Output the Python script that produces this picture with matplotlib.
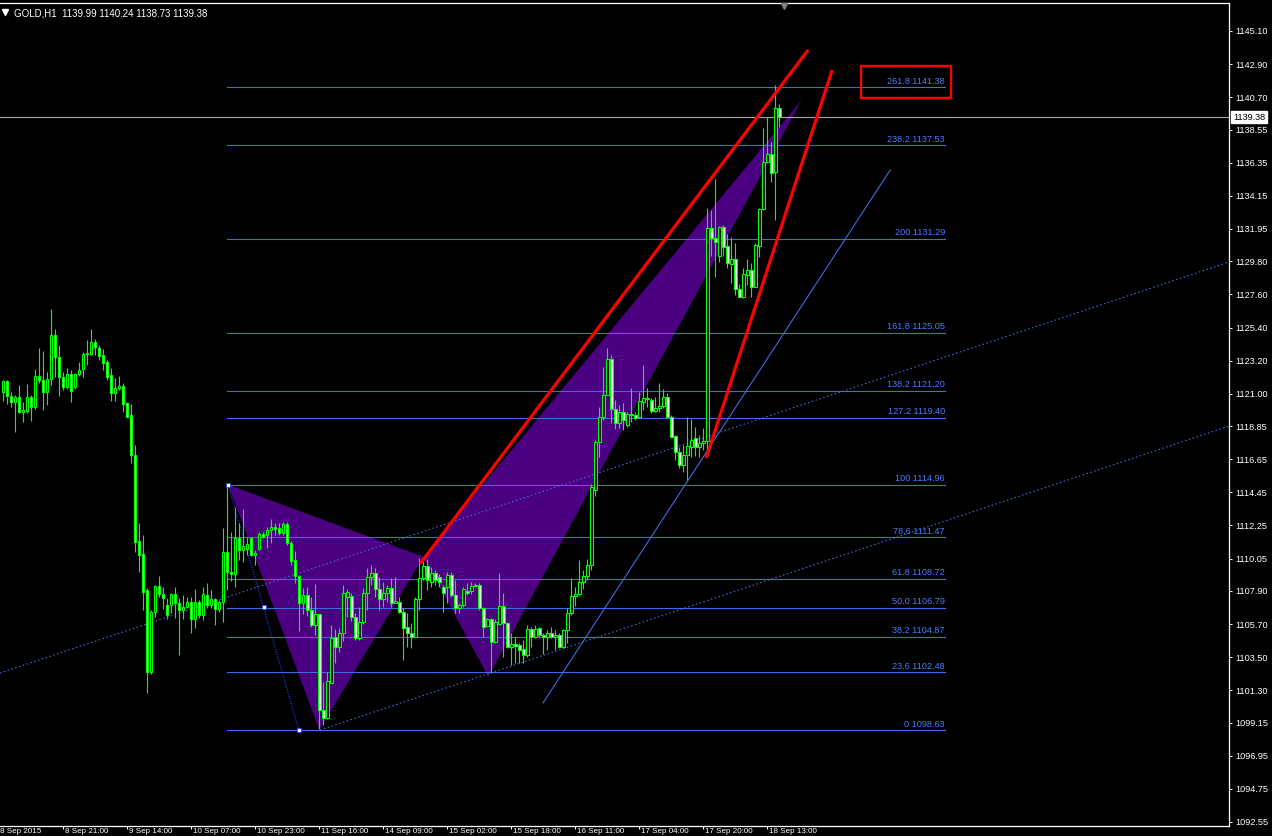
import matplotlib.pyplot as plt
from matplotlib.patches import Polygon, Rectangle

plt.rcParams['font.family'] = ['Liberation Sans', 'DejaVu Sans']

# GOLD H1 candles, bar 0 = left edge of the window
opens = [1121.14, 1121.85, 1120.85, 1120.47, 1120.76, 1119.81, 1119.88, 1120.76, 1120.10, 1122.18,
         1121.91, 1121.14, 1121.96, 1124.90, 1123.42, 1122.14, 1121.47, 1122.31, 1121.43, 1122.31,
         1122.62, 1123.64, 1123.64, 1124.42, 1124.06, 1123.58, 1123.09, 1122.25, 1121.07, 1121.36,
         1121.52, 1120.36, 1119.57, 1116.91, 1111.19, 1110.35, 1107.96, 1102.53, 1106.52, 1108.23,
         1107.69, 1106.96, 1106.96, 1107.69, 1107.12, 1106.63, 1106.81, 1107.16, 1106.01, 1107.16,
         1106.28, 1107.61, 1106.98, 1107.34, 1106.72, 1107.16, 1110.51, 1109.18, 1109.00, 1111.39,
         1110.61, 1110.66, 1111.39, 1110.28, 1110.70, 1111.68, 1111.59, 1111.94, 1112.12, 1112.05,
         1111.77, 1112.34, 1111.10, 1109.95, 1108.89, 1107.11, 1107.62, 1106.63, 1105.63, 1106.36,
         1099.98, 1099.43, 1101.80, 1104.86, 1104.19, 1105.12, 1107.51, 1107.56, 1106.14, 1104.74,
         1105.85, 1107.78, 1108.84, 1109.11, 1108.00, 1107.34, 1107.78, 1108.07, 1107.07, 1107.18,
         1106.52, 1105.48, 1105.12, 1104.86, 1107.34, 1108.73, 1109.55, 1108.51, 1109.11, 1108.80,
         1108.13, 1108.13, 1108.95, 1107.62, 1106.74, 1106.96, 1107.91, 1107.91, 1108.22, 1108.29,
         1106.74, 1105.56, 1106.01, 1104.52, 1105.70, 1106.89, 1105.74, 1104.19, 1104.37, 1104.30,
         1104.01, 1103.64, 1105.34, 1104.86, 1105.41, 1104.97, 1104.86, 1105.08, 1104.86, 1104.97,
         1104.19, 1105.30, 1106.41, 1107.56, 1107.69, 1108.51, 1108.90, 1109.60, 1114.60, 1117.81,
         1119.43, 1120.92, 1123.31, 1119.96, 1119.08, 1119.81, 1118.92, 1119.65, 1119.59, 1119.43,
         1120.47, 1120.69, 1120.58, 1119.87, 1120.03, 1120.18, 1120.80, 1119.48, 1118.19, 1117.15,
         1116.26, 1116.93, 1117.48, 1118.04, 1117.44, 1117.70, 1117.88, 1131.98, 1131.32, 1130.15,
         1132.09, 1130.81, 1129.61, 1129.92, 1127.93, 1127.44, 1128.88, 1129.21, 1128.11, 1130.83,
         1133.25, 1136.41, 1136.92, 1135.75, 1139.99]
highs = [1121.91, 1121.91, 1121.14, 1120.92, 1121.58, 1120.47, 1121.65, 1120.92, 1122.62, 1124.02,
         1123.86, 1122.47, 1126.63, 1125.30, 1124.24, 1122.47, 1122.69, 1122.58, 1122.35, 1123.13,
         1123.80, 1124.57, 1125.30, 1124.61, 1124.24, 1123.95, 1123.24, 1122.69, 1122.02, 1122.18,
         1121.69, 1120.47, 1120.32, 1117.59, 1112.39, 1111.61, 1108.07, 1106.63, 1108.29, 1108.89,
         1108.14, 1107.41, 1107.78, 1108.18, 1107.41, 1107.63, 1107.52, 1107.52, 1108.00, 1107.30,
         1108.18, 1108.40, 1107.96, 1107.41, 1107.30, 1112.06, 1114.94, 1111.79, 1113.50, 1112.39,
         1113.32, 1111.50, 1111.50, 1110.61, 1111.83, 1111.83, 1112.16, 1112.65, 1112.43, 1112.39,
         1112.50, 1112.50, 1111.23, 1110.57, 1108.95, 1108.07, 1108.13, 1107.51, 1108.35, 1106.36,
         1101.87, 1102.53, 1105.63, 1105.34, 1105.41, 1108.29, 1108.00, 1107.78, 1106.41, 1106.85,
         1108.07, 1109.40, 1109.62, 1109.40, 1108.84, 1108.51, 1108.29, 1108.73, 1108.80, 1107.51,
         1106.74, 1106.41, 1105.74, 1107.51, 1110.06, 1109.91, 1109.99, 1109.46, 1109.29, 1109.02,
         1108.29, 1109.17, 1109.17, 1108.62, 1107.07, 1108.13, 1108.40, 1108.51, 1108.40, 1108.44,
         1106.85, 1106.07, 1106.07, 1106.01, 1109.06, 1107.78, 1105.85, 1105.08, 1104.86, 1104.46,
         1104.63, 1105.63, 1105.52, 1105.63, 1105.48, 1105.08, 1105.30, 1105.52, 1105.30, 1105.12,
         1105.34, 1106.74, 1108.73, 1108.18, 1109.95, 1109.30, 1110.00, 1115.00, 1117.95, 1120.14,
         1122.80, 1124.02, 1123.57, 1120.58, 1120.25, 1120.36, 1119.81, 1121.36, 1119.81, 1121.14,
         1122.91, 1121.36, 1120.69, 1120.80, 1121.73, 1121.29, 1121.03, 1119.59, 1118.26, 1117.48,
         1117.59, 1119.43, 1119.30, 1118.77, 1118.26, 1118.70, 1133.31, 1133.20, 1135.24, 1132.14,
         1132.20, 1131.61, 1131.43, 1130.99, 1128.28, 1129.33, 1129.92, 1129.70, 1130.99, 1133.31,
         1138.63, 1139.36, 1137.74, 1141.51, 1140.24]
lows = [1120.52, 1120.32, 1120.14, 1118.48, 1119.70, 1119.15, 1119.70, 1119.21, 1119.96, 1121.74,
        1119.92, 1120.25, 1121.58, 1122.14, 1120.87, 1121.25, 1121.29, 1120.47, 1121.34, 1122.18,
        1122.09, 1122.91, 1123.58, 1123.58, 1123.24, 1122.58, 1121.91, 1120.54, 1120.54, 1121.25,
        1119.81, 1119.43, 1116.38, 1110.51, 1109.18, 1106.63, 1101.14, 1102.38, 1106.19, 1107.52,
        1106.67, 1106.01, 1106.45, 1106.08, 1103.64, 1106.01, 1106.74, 1105.08, 1105.41, 1106.08,
        1105.97, 1106.74, 1106.74, 1105.63, 1106.52, 1105.86, 1107.96, 1108.56, 1108.14, 1109.95,
        1109.84, 1110.28, 1110.22, 1109.62, 1110.61, 1111.39, 1110.72, 1111.10, 1111.61, 1111.61,
        1111.61, 1110.95, 1109.62, 1108.40, 1105.25, 1106.36, 1106.23, 1105.52, 1104.97, 1098.70,
        1098.98, 1099.36, 1101.75, 1103.08, 1103.86, 1104.59, 1106.18, 1105.92, 1104.63, 1104.63,
        1105.70, 1106.63, 1108.29, 1107.51, 1106.63, 1106.85, 1107.18, 1106.85, 1107.07, 1106.45,
        1103.30, 1104.19, 1104.08, 1104.81, 1106.63, 1108.62, 1107.96, 1108.18, 1108.29, 1108.18,
        1106.52, 1107.07, 1107.51, 1106.41, 1106.41, 1106.80, 1107.62, 1107.69, 1108.22, 1106.63,
        1104.86, 1105.52, 1102.42, 1104.41, 1105.63, 1103.53, 1104.08, 1102.97, 1103.08, 1103.08,
        1103.08, 1103.53, 1104.19, 1104.74, 1104.86, 1103.70, 1103.97, 1104.74, 1103.97, 1104.15,
        1104.15, 1104.41, 1106.30, 1106.89, 1107.62, 1108.00, 1108.60, 1109.30, 1114.20, 1116.82,
        1119.25, 1120.92, 1119.03, 1118.63, 1118.70, 1118.59, 1118.81, 1119.14, 1119.25, 1119.36,
        1119.92, 1120.14, 1119.74, 1119.81, 1119.81, 1120.03, 1119.43, 1118.15, 1116.60, 1116.04,
        1115.82, 1115.27, 1116.77, 1116.86, 1116.82, 1117.26, 1117.20, 1130.15, 1128.77, 1129.77,
        1130.15, 1129.33, 1128.33, 1127.55, 1127.40, 1127.33, 1128.22, 1127.40, 1128.11, 1130.10,
        1133.20, 1136.35, 1135.08, 1132.54, 1138.73]
closes = [1121.85, 1120.85, 1120.47, 1120.76, 1119.81, 1119.92, 1120.76, 1120.10, 1122.18, 1121.91,
          1121.14, 1121.96, 1124.90, 1123.42, 1122.14, 1121.47, 1122.31, 1121.21, 1122.31, 1122.58,
          1123.64, 1123.73, 1124.42, 1124.08, 1123.53, 1123.07, 1122.14, 1121.07, 1121.36, 1121.52,
          1120.30, 1119.48, 1116.91, 1111.13, 1110.31, 1107.85, 1102.53, 1106.47, 1108.23, 1107.69,
          1107.45, 1106.30, 1107.69, 1107.12, 1106.63, 1106.85, 1107.16, 1106.06, 1107.16, 1106.28,
          1107.69, 1106.98, 1107.34, 1106.72, 1107.16, 1110.48, 1109.18, 1109.02, 1111.39, 1110.61,
          1110.88, 1111.01, 1110.28, 1110.44, 1111.68, 1111.50, 1111.94, 1112.12, 1111.99, 1111.77,
          1112.34, 1111.06, 1109.91, 1108.89, 1107.11, 1107.62, 1106.63, 1105.63, 1106.36, 1099.98,
          1099.43, 1101.93, 1104.74, 1104.19, 1105.12, 1107.78, 1107.85, 1106.14, 1104.74, 1105.85,
          1107.78, 1108.84, 1109.11, 1108.00, 1107.34, 1107.78, 1108.07, 1107.07, 1107.25, 1106.52,
          1105.41, 1105.12, 1104.86, 1107.34, 1108.73, 1109.55, 1108.62, 1109.11, 1108.62, 1108.51,
          1107.73, 1108.95, 1107.62, 1106.74, 1106.96, 1108.00, 1107.78, 1108.22, 1108.29, 1106.74,
          1105.52, 1106.01, 1104.52, 1105.85, 1106.89, 1105.74, 1104.19, 1104.37, 1104.23, 1103.97,
          1103.64, 1105.34, 1104.86, 1105.34, 1104.97, 1104.86, 1105.08, 1104.86, 1104.97, 1104.19,
          1105.30, 1106.41, 1107.56, 1107.69, 1108.51, 1108.90, 1109.60, 1114.80, 1117.81, 1119.43,
          1120.92, 1123.31, 1119.96, 1119.08, 1119.81, 1119.25, 1119.65, 1119.59, 1119.36, 1120.54,
          1120.69, 1120.63, 1119.87, 1120.03, 1120.18, 1120.80, 1119.48, 1118.15, 1117.15, 1116.26,
          1116.93, 1117.53, 1117.93, 1117.44, 1117.70, 1117.88, 1131.98, 1131.32, 1131.10, 1132.09,
          1130.77, 1129.70, 1129.92, 1127.93, 1127.44, 1128.95, 1129.21, 1128.11, 1130.88, 1133.27,
          1136.41, 1136.92, 1135.68, 1139.96, 1139.38]

header = 'GOLD,H1  1139.99 1140.24 1138.73 1139.38'
bid = 1139.38

price_ticks = [1145.10, 1142.90, 1140.70, 1138.55, 1136.35, 1134.15, 1131.95, 1129.80, 1127.60,
               1125.40, 1123.20, 1121.00, 1118.85, 1116.65, 1114.45, 1112.25, 1110.05, 1107.90,
               1105.70, 1103.50, 1101.30, 1099.15, 1096.95, 1094.75, 1092.55]
date_bars = [-1.3, 15, 31, 47, 63, 79, 95, 111, 127, 143, 159, 175, 191]
date_labels = ['8 Sep 2015', '8 Sep 21:00', '9 Sep 14:00', '10 Sep 07:00', '10 Sep 23:00',
               '11 Sep 16:00', '14 Sep 09:00', '15 Sep 02:00', '15 Sep 18:00', '16 Sep 11:00',
               '17 Sep 04:00', '17 Sep 20:00', '18 Sep 13:00']

fib_ratios = ['0', '23.6', '38.2', '50.0', '61.8', '78.6', '100', '127.2', '138.2', '161.8',
              '200', '238.2', '261.8']
fib_prices = [1098.63, 1102.48, 1104.87, 1106.79, 1108.72, 1111.47, 1114.96, 1119.40, 1121.20,
              1125.05, 1131.29, 1137.53, 1141.38]
fib_span = (55.9, 235.4)

# harmonic pattern points (bar, price)
xab = [(56.2, 1114.96), (79.0, 1098.66), (105.0, 1110.17)]
bcd = [(105.0, 1110.17), (121.25, 1102.20), (199.6, 1140.52)]
# trend lines
wedge_upper = [(104.2, 1109.70), (201.2, 1143.85)]
wedge_lower = [(175.7, 1116.73), (207.2, 1142.51)]
blue_trend = [(134.9, 1100.45), (221.7, 1135.86)]
channel_upper = [(-0.83, 1102.44), (306.4, 1129.75)]
channel_lower = [(79.2, 1098.66), (306.4, 1118.85)]
fib_anchor = [(56.2, 1114.96), (65.05, 1106.80), (73.9, 1098.63)]

LIME = '#00FF00'
BLUE = '#4169E1'
INDIGO = '#4B0082'

fig = plt.figure(figsize=(12.72, 8.36), dpi=100, facecolor='black')
ax = fig.add_axes([0, 10 / 836, 1229 / 1272, 823 / 836], facecolor='black')
ax.set_xlim(-0.83, 306.4)
ax.set_ylim(1092.28, 1146.96)

# pattern triangles in the background
ax.add_patch(Polygon(xab, closed=True, facecolor=INDIGO, edgecolor='none', zorder=1))
ax.add_patch(Polygon(bcd, closed=True, facecolor=INDIGO, edgecolor='none', zorder=1))

# fibonacci levels
for r, p in zip(fib_ratios, fib_prices):
    ax.plot(fib_span, [p, p], color=BLUE, lw=0.8, zorder=2)
    ax.annotate(f'{r} {p:.2f}', (fib_span[1], p), xytext=(0, 1), textcoords='offset points',
                ha='right', va='bottom', color='#4A7AFF', fontsize=6.6, zorder=2)

ax.axhline(bid, color='#A8A8A8', lw=0.8, zorder=2)

for line in (channel_upper, channel_lower):
    xs, ys = zip(*line)
    ax.plot(xs, ys, color=BLUE, lw=0.8, linestyle=(0, (1.4, 2.2)), zorder=2)
xs, ys = zip(*fib_anchor)
ax.plot(xs, ys, color='#2040FF', lw=0.8, linestyle=(0, (1, 1.2)), zorder=2)
ax.plot(xs, ys, linestyle='none', marker='s', ms=3, mfc='white', mec='#2040FF', mew=0.6, zorder=6)

xs, ys = zip(*blue_trend)
ax.plot(xs, ys, color=BLUE, lw=0.8, zorder=2)

# candles
bars = list(range(len(opens)))
ax.vlines(bars, lows, highs, color=LIME, lw=0.8, zorder=3)
bottoms = [min(o, c) for o, c in zip(opens, closes)]
heights = [abs(c - o) for o, c in zip(opens, closes)]
fills = ['black' if c >= o else 'white' for o, c in zip(opens, closes)]
ax.bar(bars, heights, bottom=bottoms, width=0.58, color=fills, edgecolor=LIME, linewidth=0.8,
       zorder=4)

for line in (wedge_upper, wedge_lower):
    xs, ys = zip(*line)
    ax.plot(xs, ys, color='#FF0000', lw=2.3, solid_capstyle='butt', zorder=5)

ax.add_patch(Rectangle((214.35, 1140.67), 22.5, 2.12, fill=False, edgecolor='#FF0000', lw=1.7,
                       zorder=6, clip_on=False))

# frame and axes
for side in ('top', 'right', 'bottom'):
    ax.spines[side].set_color('white')
    ax.spines[side].set_linewidth(0.9)
ax.spines['left'].set_visible(False)

ax.yaxis.tick_right()
ax.set_yticks(price_ticks)
ax.set_yticklabels([f'{p:.2f}' for p in price_ticks])
ax.tick_params(axis='y', colors='white', length=2.5, width=0.7, pad=2, labelsize=6.6)

ax.set_xticks(date_bars[1:])
ax.set_xticklabels([])
ax.tick_params(axis='x', colors='white', length=2, width=0.7)
for b, lab in zip(date_bars, date_labels):
    ax.annotate(lab, (b, 0), xycoords=('data', 'axes fraction'), xytext=(1.5, -1.2),
                textcoords='offset points', ha='left', va='top', color='white', fontsize=5.8,
                annotation_clip=False)

ax.annotate(f'{bid:.2f}', (1, bid), xycoords=('axes fraction', 'data'), xytext=(3, 0),
            textcoords='offset points', ha='left', va='center', color='black', fontsize=6.6,
            bbox=dict(boxstyle='square,pad=0.2', fc='white', ec='white'), annotation_clip=False,
            zorder=7)

fig.text(14 / 1272, 1 - 13 / 836, header, color='white', fontsize=7, va='center', ha='left')
fig.lines.append(plt.Line2D([5 / 1272], [1 - 12 / 836], transform=fig.transFigure, marker='v',
                            ms=4.5, color='white', linestyle='none'))
fig.lines.append(plt.Line2D([784 / 1272], [1 - 6 / 836], transform=fig.transFigure, marker='v',
                            ms=5, color='#808080', linestyle='none'))

fig.savefig('out.png', dpi=100, facecolor='black')
